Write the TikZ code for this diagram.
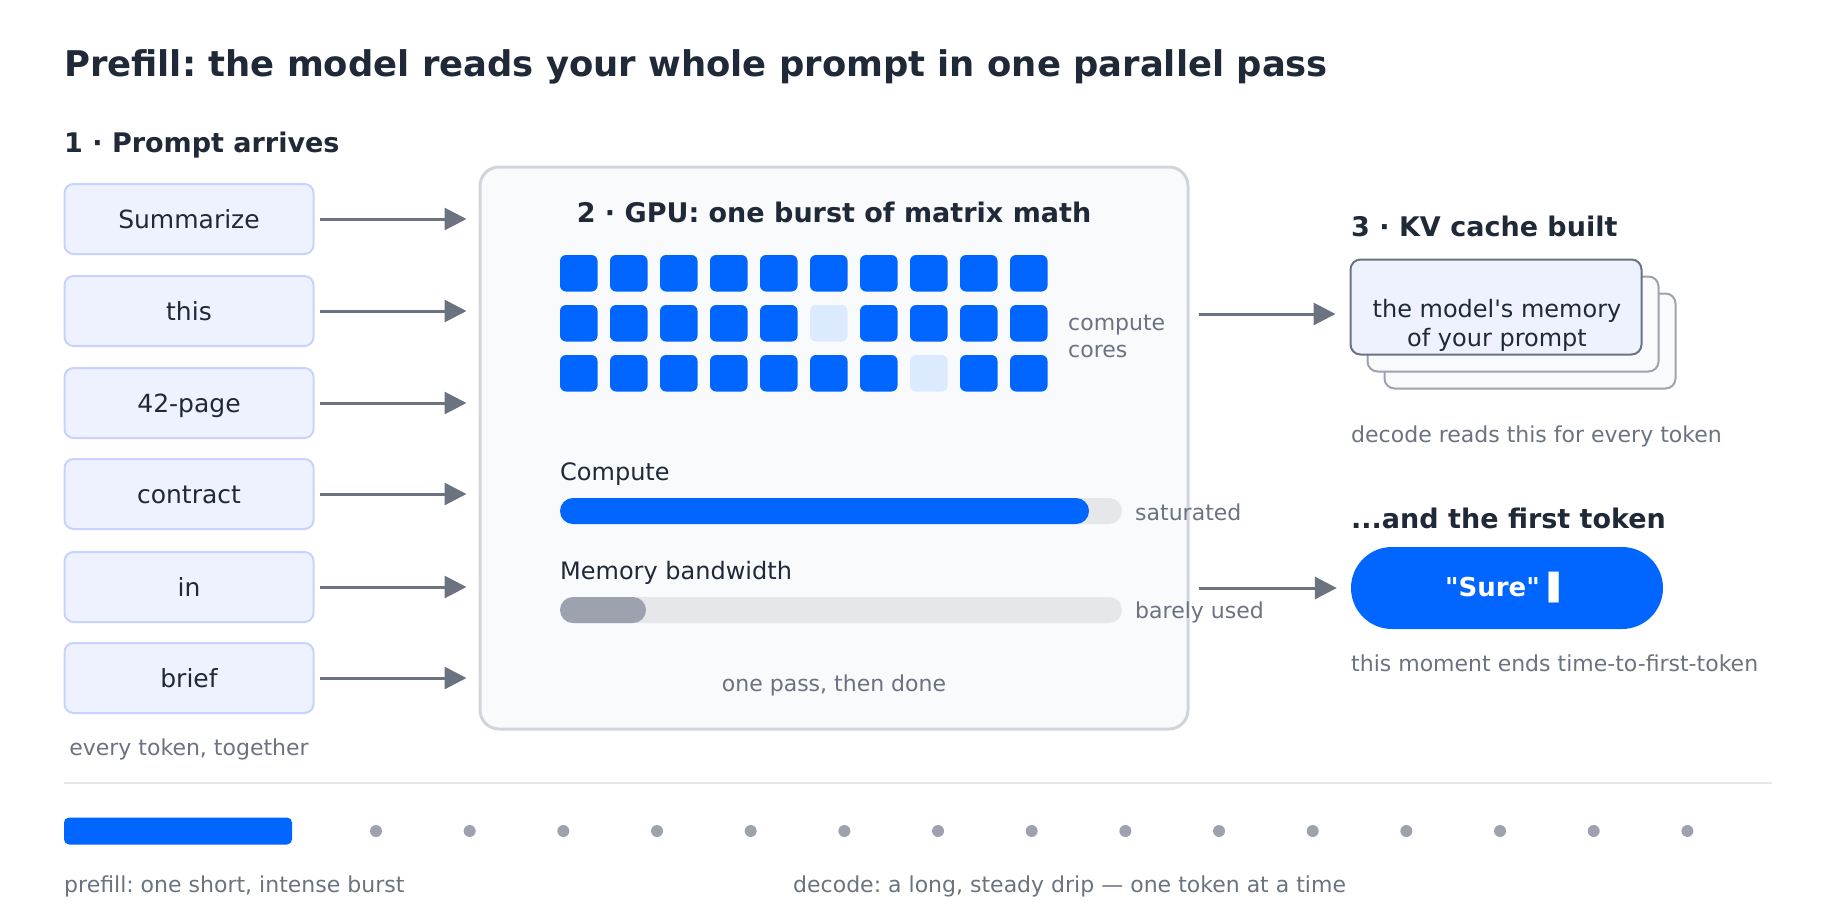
\documentclass[tikz,border=0pt]{standalone}
\usepackage{fontspec}
\setmainfont{DejaVu Sans}[Ligatures=TeXOff]
\usetikzlibrary{arrows.meta}
\frenchspacing

\definecolor{ink}{HTML}{1F2937}
\definecolor{muted}{HTML}{6B7280}
\definecolor{accent}{HTML}{0066FF}
\definecolor{pale}{HTML}{DBEAFE}
\definecolor{tokfill}{HTML}{EEF2FF}
\definecolor{tokline}{HTML}{C7D2FE}
\definecolor{panel}{HTML}{F8FAFC}
\definecolor{panelline}{HTML}{D1D5DB}
\definecolor{track}{HTML}{E5E7EB}
\definecolor{slate}{HTML}{9CA3AF}

\tikzset{
  head/.style={anchor=west, inner sep=0pt, text=ink, font=\fontsize{27}{32}\selectfont\bfseries},
  note/.style={inner sep=0pt, text=muted, font=\fontsize{22}{27}\selectfont},
  label/.style={anchor=west, inner sep=0pt, text=ink, font=\fontsize{24}{28}\selectfont},
  token/.style={draw=tokline, fill=tokfill, line width=2pt, rounded corners=9pt, minimum width=249pt, minimum height=70pt, text height=19pt, text depth=0pt, text=ink, font=\fontsize{25}{30}\selectfont},
  card/.style={draw=slate, fill=panel, line width=2pt, rounded corners=10pt, minimum width=291pt, minimum height=95pt},
  flow/.style={->, draw=muted, line width=3pt},
}

\begin{document}
\begin{tikzpicture}[x=1pt, y=-1pt, >={Triangle[length=22pt, width=22pt]}]
\useasboundingbox (0,0) rectangle (1836,919);

\node[head, font=\fontsize{35.4}{40}\selectfont\bfseries] (title) at (64,67) {Prefill: the model reads your whole prompt in one parallel pass};
\node[head] (h1) at (64,145) {1 · Prompt arrives};

\node[token] (a) at (189,219) {Summarize};
\node[token] (b) at (189,311) {this};
\node[token] (c) at (189,403) {42-page};
\node[token] (d) at (189,494) {contract};
\node[token] (e) at (189,587) {in};
\node[token] (f) at (189,678) {brief};
\node[note] (together) at (189,749) {every token, together};

\node[draw=panelline, fill=panel, line width=3pt, rounded corners=19pt, minimum width=708pt, minimum height=562pt] (gpu) at (834,448) {};
\node[head, anchor=center] (h2) at (834,212) {2 · GPU: one burst of matrix math};

\foreach \r/\idle in {0/-1,1/5,2/7}
  \foreach \c in {0,...,9} {
    \ifnum\c=\idle \def\cc{pale}\else\def\cc{accent}\fi
    \fill[\cc, rounded corners=6pt] (560+50*\c,255+50*\r) rectangle ++(37.5,36.5);
  }
\node[note, anchor=west, align=left] (cores) at (1068,336) {compute\\cores};

\node[label] (lc) at (560,474) {Compute};
\fill[track, rounded corners=13pt] (560,498) rectangle (1122,524);
\fill[accent, rounded corners=13pt] (560,498) rectangle (1089,524);
\node[note, anchor=west] (sat) at (1135,512) {saturated};

\node[label] (lm) at (560,573) {Memory bandwidth};
\fill[track, rounded corners=13pt] (560,597) rectangle (1122,623);
\fill[slate, rounded corners=13pt] (560,597) rectangle (646,623);
\node[note, anchor=west] (low) at (1135,612) {barely used};

\node[note] (once) at (834,685) {one pass, then done};

\foreach \n in {a,b,c,d,e,f}
  \draw[flow, shorten <=5pt, shorten >=12pt] (\n.east) -- (\n.east -| gpu.west);

\node[head] (h3) at (1351,226) {3 · KV cache built};
\node[card] (kv3) at (1530,341) {};
\node[card] (kv2) at (1513,324) {};
\node[card, draw=muted, fill=tokfill] (kv) at (1496,307) {};
\node[align=center, inner sep=0pt, text=ink, font=\fontsize{24}{29}\selectfont] (kvtext) at (1497,325) {the model's memory\\of your prompt};
\node[note, anchor=west] (reads) at (1351,436) {decode reads this for every token};

\node[head] (h4) at (1351,518) {...and the first token};
\node[fill=accent, rounded corners=41pt, minimum width=312pt, minimum height=82pt, text=white, font=\fontsize{26}{30}\selectfont\bfseries] (sure) at (1507,588) {"Sure" ▌};
\node[note, anchor=west] (ttft) at (1351,663) {this moment ends time-to-first-token};

\draw[flow, shorten <=9pt, shorten >=14pt] ([yshift=-7pt]kv.west -| gpu.east) -- ([yshift=-7pt]kv.west);
\draw[flow, shorten <=9pt, shorten >=14pt] (sure.west -| gpu.east) -- (sure.west);

\draw[track, line width=2pt] (64,783) -- (1772,783);
\node[fill=accent, rounded corners=5pt, minimum width=228pt, minimum height=27pt, inner sep=0pt] (burst) at (178,831) {};
\foreach \i in {0,...,14}
  \fill[slate] (376+93.67*\i,831) circle (6);
\node[note, anchor=west] (pf) at (64,886) {prefill: one short, intense burst};
\node[note, anchor=west] (dc) at (793,886) {decode: a long, steady drip — one token at a time};
\end{tikzpicture}
\end{document}
